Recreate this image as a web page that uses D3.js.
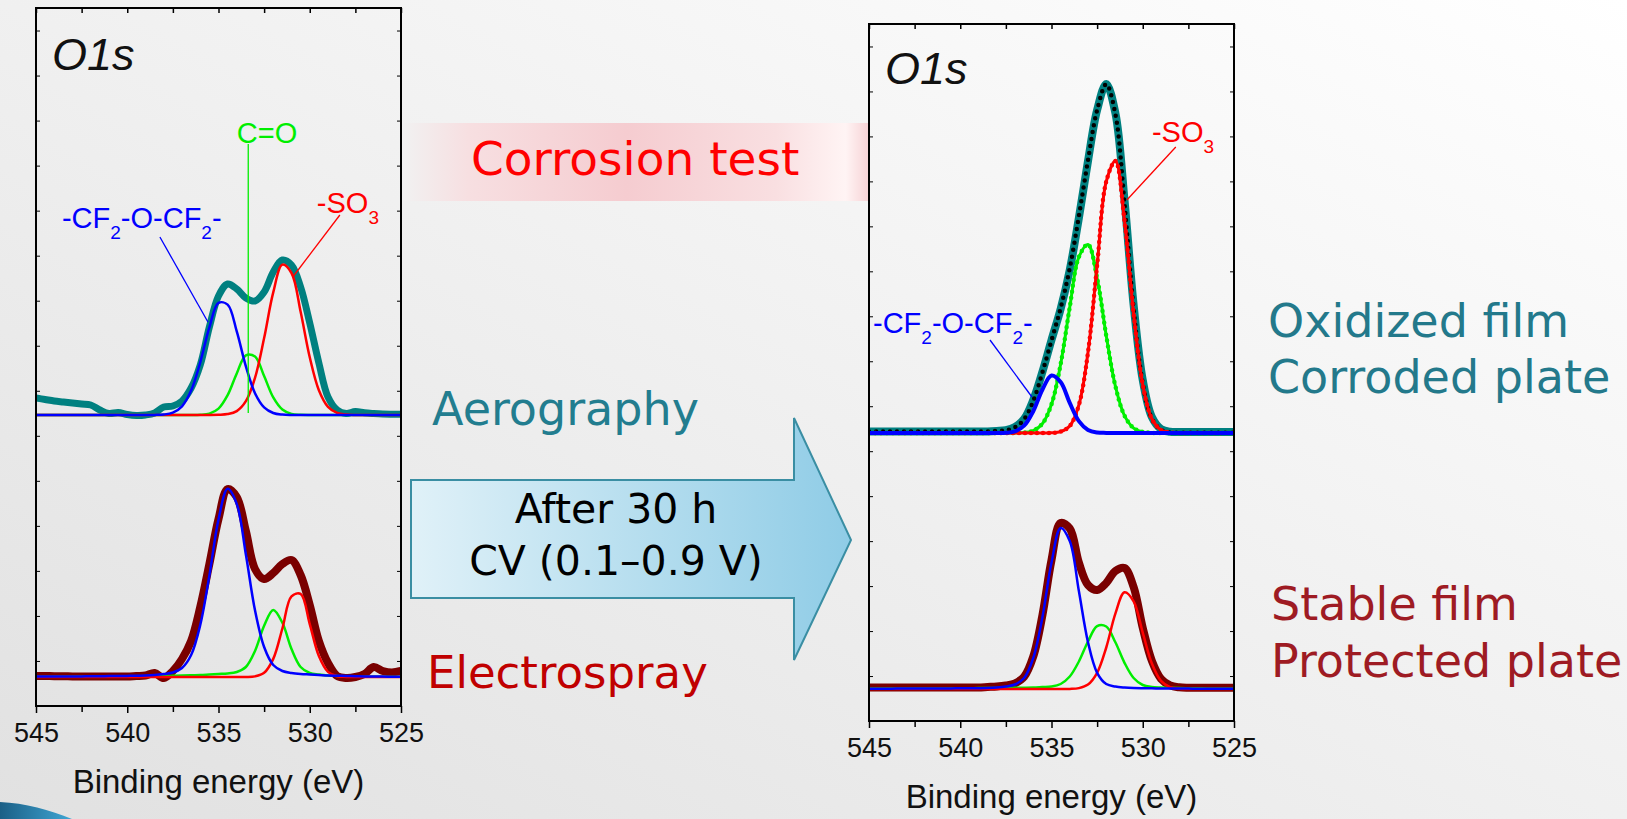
<!DOCTYPE html>
<html>
<head>
<meta charset="utf-8">
<script src="https://cdn.jsdelivr.net/npm/d3@7"></script>
<style>
  body { margin: 0; overflow: hidden; }
  svg text { font-family: "Liberation Sans", Arial, sans-serif; }
  svg text.slide { font-family: "DejaVu Sans", Verdana, sans-serif; }
</style>
</head>
<body>
<svg id="chart" width="1627" height="819"></svg>
<script>
// binding energy grid (eV), shared by every spectrum
const energy = [545,544.5,544,543.5,543,542.5,542,541.5,541,540.5,540,539.5,539,538.5,538,537.5,537,536.5,536,535.5,
  535,534.5,534,533.5,533,532.5,532,531.5,531,530.5,530,529.5,529,528.5,528,527.5,527,526.5,526,525.5,525];

// Aerography film, before test (left panel, top) - intensity a.u.
const aeroData  = [17,15.5,14,13,12,11,10,5,1.5,2.5,0.5,-0.5,0,2,8,9,14,27,50,88,119,131,126,117,114,123,143,155,150,128,92,52,18,5,1.5,3.5,2.2,1.5,1,0.8,0.7];
const aeroBlue  = [0,0,0,0,0,0,0,0,0,0,0,0,0,0.1,0.5,2.4,8.7,24.4,52.7,87.6,112.1,110.4,83.6,48.7,21.8,7.6,2.0,0.4,0,0,0,0,0,0,0,0,0,0,0,0,0];
const aeroGreen = [0,0,0,0,0,0,0,0,0,0,0,0,0,0,0,0,0,0,0.2,1.4,6.4,19.8,41.6,59.7,58.4,38.9,17.6,5.5,1.1,0.2,0,0,0,0,0,0,0,0,0,0,0];
const aeroRed   = [0,0,0,0,0,0,0,0,0,0,0,0,0,0,0,0,0,0,0,0,0.2,0.9,3.9,13.8,37.1,76.9,122.6,150.4,142.0,103.2,57.7,24.8,8.2,2.1,0.4,0,0,0,0,0,0];

// Electrospray film, before test (left panel, bottom)
const sprayData  = [1,1,0.8,0.8,0.5,0.5,0.5,0.5,0.5,0.5,0.5,1,1.5,4,-1,6,18,36,70,113,158,188,180,146,108,98,104,113,117,102,72,36,14,1,-1,0,3,10,6,4.5,6];
const sprayBlue  = [0.5,0.5,0.5,0.5,0.6,0.6,0.7,0.8,0.9,1,1.1,1.3,1.5,2,3,4.5,9,22,52,101.4,157.5,188.2,173.1,122.5,66.7,30,12,6,4,3,2.5,2,1.5,1.3,1,0.8,0.5,0.5,0.4,0.3,0.3];
const sprayGreen = [0.2,0.2,0.2,0.2,0.2,0.2,0.3,0.3,0.4,0.4,0.5,0.6,0.7,0.8,1,1.2,1.5,1.8,2,2.5,3,3.5,5,10,26,51.2,67,54.2,28,10,4,2.5,1.5,1,0.5,0.4,0.2,0.2,0.2,0.2,0.2];
const sprayRed   = [0,0,0,0,0,0,0,0,0,0,0,0,0,0,0,0,0,0,0,0,0,0,0,0,0.6,4.2,18.1,48.5,80.7,83.1,52.9,20.9,5.1,0.8,0.1,0,0,0,0,0,0];

// Oxidized film after 30 h CV (right panel, top)
const oxData  = [1.5,1.5,1.5,1.5,1.5,1.5,1.5,1.5,1.5,1.5,1.5,1.5,1.5,1.5,2,2.8,6,14,33,61,93,124,163,215,272,323,349,320,233,128,53,16,4,1.2,1,1,1,1,1,1,1];
const oxFit   = [1.5,1.5,1.5,1.5,1.5,1.5,1.5,1.5,1.5,1.5,1.5,1.5,1.5,1.5,2,2.7,5.7,13.7,32,60.6,92.5,125,164.8,216.8,272.8,323,348.9,318.9,229.5,124.3,49.6,14.4,3,0.5,0.3,0.3,0.3,0.3,0.3,0.3,0.3];
const oxBlue  = [0,0,0,0,0,0,0,0,0,0,0,0,0,0,0,0.2,1.6,7.3,21.8,43.3,57.5,50.9,30.1,11.9,3.1,0.5,0.1,0,0,0,0,0,0,0,0,0,0,0,0,0,0];
const oxGreen = [0,0,0,0,0,0,0,0,0,0,0,0,0,0,0,0,0.1,0.4,2.3,9.3,28.8,68.8,125.7,175.9,188.5,154.8,97.3,46.9,17.3,4.9,1.1,0.2,0,0,0,0,0,0,0,0,0];
const oxRed   = [0,0,0,0,0,0,0,0,0,0,0,0,0,0,0,0,0,0,0,0,0.2,1.3,7.0,28.0,80.7,167.7,251.5,272.0,212.2,119.4,48.5,14.2,3.0,0.5,0,0,0,0,0,0,0];

// Stable film after 30 h CV (right panel, bottom)
const protData  = [1.5,1.5,1.5,1.5,1.5,1.5,1.5,1.5,1.5,1.5,1.5,1.5,1.5,2,2.5,3.6,5.7,12.3,32.5,73.6,128.9,166,160.5,126.4,104,99,106,118,121,102,61.1,28.1,10.2,3.6,1.7,1.3,1.3,1.3,1.3,1.3,1.3];
const protBlue  = [0.3,0.3,0.3,0.4,0.4,0.4,0.5,0.5,0.6,0.6,0.7,0.7,0.8,1,1.5,2.5,4.5,11,31,71.6,126.4,161,147.9,98,46.8,16.2,5,2.5,1.5,1,0.8,0.7,0.5,0.5,0.4,0.4,0.3,0.3,0.3,0.3,0.3];
const protGreen = [0.5,0.5,0.5,0.5,0.5,0.5,0.5,0.5,0.5,0.5,0.8,0.8,0.9,0.9,1,1.1,1.2,1.3,1.5,2,2.5,5,12.5,27.5,47.5,62.9,62.5,46.7,26.2,11,4,2,1.5,1.2,1,0.8,0.7,0.6,0.5,0.5,0.5];
const protRed   = [0,0,0,0,0,0,0,0,0,0,0,0,0,0,0,0,0,0,0,0,0,0,0.1,0.9,4.5,16.2,41.5,75.3,96.7,87.7,56.3,25.5,8.2,1.9,0.3,0,0,0,0,0,0];

const xTicks = [545, 540, 535, 530, 525];
const xMinorTicks = [542.5, 537.5, 532.5, 527.5];
const xAllTicks = [545, 542.5, 540, 537.5, 535, 532.5, 530, 527.5, 525];
const sideTicks = [1,2,3,4,5,6,7,8,9,10,11,12,13,14,15];

const TEAL = '#008080', MAROON = '#7a0000', BLUE = '#0000ff', GREEN = '#00ee00', RED = '#ff0000';

const svg = d3.select('#chart');
const defs = svg.append('defs');

// slide background
const bg = defs.append('linearGradient').attr('id', 'bg')
  .attr('x1', '100%').attr('y1', '0%').attr('x2', '0%').attr('y2', '100%');
bg.append('stop').attr('offset', '0%').attr('stop-color', '#ffffff');
bg.append('stop').attr('offset', '100%').attr('stop-color', '#e1e1e1');
svg.append('rect').attr('width', 1627).attr('height', 819).attr('fill', 'url(#bg)');

// pink band behind "Corrosion test"
const pink = defs.append('linearGradient').attr('id', 'pink');
[['0%', '#f1f1f1'], ['14%', '#f7dfe1'], ['48%', '#f5ccd0'], ['80%', '#f9dfe1'], ['95%', '#fff4f4'], ['100%', '#f6d2d5']]
  .forEach(s => pink.append('stop').attr('offset', s[0]).attr('stop-color', s[1]));
svg.append('rect').attr('x', 403).attr('y', 123).attr('width', 466).attr('height', 78).attr('fill', 'url(#pink)');

// arrow
const arrowGrad = defs.append('linearGradient').attr('id', 'arrowGrad');
arrowGrad.append('stop').attr('offset', '0%').attr('stop-color', '#e0f1f8');
arrowGrad.append('stop').attr('offset', '100%').attr('stop-color', '#8fcce6');
svg.append('path')
  .attr('d', 'M411,480 L794,480 L794,418 L851,540 L794,660 L794,598 L411,598 Z')
  .attr('fill', 'url(#arrowGrad)').attr('stroke', '#3a8ea3').attr('stroke-width', 2);

// bottom-left swoosh
const sw = defs.append('linearGradient').attr('id', 'sw');
sw.append('stop').attr('offset', '0%').attr('stop-color', '#1b5f86');
sw.append('stop').attr('offset', '100%').attr('stop-color', '#3fa6d4');
svg.append('path').attr('d', 'M0,802 C25,803 50,810 72,819 L0,819 Z').attr('fill', 'url(#sw)');

function subLabel(g, x, y, parts, color) {
  const t = g.append('text').attr('x', x).attr('y', y).attr('fill', color).attr('font-size', 29);
  let prevSub = false;
  parts.forEach(([s, sub]) => {
    t.append('tspan')
      .attr('font-size', sub ? 19 : 29)
      .attr('dy', sub ? 11 : (prevSub ? -11 : 0))
      .text(s);
    prevSub = sub;
  });
}

const panels = [
  { id: 'L', x0: 36, y0: 8, w: 365, h: 698, labelDy: 62,
    stacks: [
      { base: 415, series: [
        { values: aeroData, color: TEAL, width: 7 },
        { values: aeroGreen, color: GREEN, width: 2.5 },
        { values: aeroRed, color: RED, width: 2.5 },
        { values: aeroBlue, color: BLUE, width: 2.5 }],
        notes: [
          { text: [['C=O', false]], color: GREEN, at: [534.0, 272], line: [[533.37, 271], [533.37, 2]] },
          { text: [['-SO', false], ['3', true]], color: RED, at: [529.61, 202], line: [[528.35, 200], [530.93, 138]] },
          { text: [['-CF', false], ['2', true], ['-O-CF', false], ['2', true], ['-', false]], color: BLUE, at: [543.58, 187], line: [[538.21, 178], [535.58, 93]] }
        ] },
      { base: 677, series: [
        { values: sprayData, color: MAROON, width: 8 },
        { values: sprayGreen, color: GREEN, width: 2.5 },
        { values: sprayRed, color: RED, width: 2.5 },
        { values: sprayBlue, color: BLUE, width: 2.5 }],
        notes: [] }
    ] },
  { id: 'R', x0: 869, y0: 24, w: 365, h: 697, labelDy: 60,
    stacks: [
      { base: 433, series: [
        { values: oxData, color: TEAL, width: 8 },
        { values: oxFit, color: 'none', width: 0, dots: { color: '#000', size: 4.5, gap: 7 } },
        { values: oxGreen, color: GREEN, width: 3, dots: { color: GREEN, size: 4.5, gap: 6 } },
        { values: oxRed, color: RED, width: 3, dots: { color: RED, size: 4.5, gap: 6 } },
        { values: oxBlue, color: BLUE, width: 4 }],
        notes: [
          { text: [['-SO', false], ['3', true]], color: RED, at: [529.5, 291], line: [[528.19, 286], [530.87, 233]] },
          { text: [['-CF', false], ['2', true], ['-O-CF', false], ['2', true], ['-', false]], color: BLUE, at: [544.78, 100], line: [[538.37, 93], [536.07, 36]] }
        ] },
      { base: 689, series: [
        { values: protData, color: MAROON, width: 8 },
        { values: protGreen, color: GREEN, width: 2.5 },
        { values: protRed, color: RED, width: 2.5 },
        { values: protBlue, color: BLUE, width: 2.5 }],
        notes: [] }
    ] }
];

panels.forEach(p => {
  const g = svg.append('g');
  const x = d3.scaleLinear().domain([545, 525]).range([p.x0, p.x0 + p.w]);

  defs.append('clipPath').attr('id', 'clip' + p.id)
    .append('rect').attr('x', p.x0).attr('y', p.y0).attr('width', p.w).attr('height', p.h);
  const plot = g.append('g').attr('clip-path', `url(#clip${p.id})`);

  p.stacks.forEach(s => {
    const y = d3.scaleLinear().domain([0, 100]).range([s.base, s.base - 100]);
    const line = d3.line()
      .x((d, i) => x(energy[i]))
      .y(d => y(d))
      .curve(d3.curveCatmullRom.alpha(0.5));

    s.series.forEach(sr => {
      if (sr.width > 0) {
        plot.append('path').attr('d', line(sr.values))
          .attr('fill', 'none').attr('stroke', sr.color).attr('stroke-width', sr.width)
          .attr('stroke-linejoin', 'round').attr('stroke-linecap', 'round');
      }
      if (sr.dots) {
        plot.append('path').attr('d', line(sr.values))
          .attr('fill', 'none').attr('stroke', sr.dots.color).attr('stroke-width', sr.dots.size)
          .attr('stroke-dasharray', `0 ${sr.dots.gap}`).attr('stroke-linecap', 'round');
      }
    });

    s.notes.forEach(n => {
      g.append('line')
        .attr('x1', x(n.line[0][0])).attr('y1', y(n.line[0][1]))
        .attr('x2', x(n.line[1][0])).attr('y2', y(n.line[1][1]))
        .attr('stroke', n.color).attr('stroke-width', 1.3);
      subLabel(g, x(n.at[0]), y(n.at[1]), n.text, n.color);
    });
  });

  // frame
  g.append('rect').attr('x', p.x0).attr('y', p.y0).attr('width', p.w).attr('height', p.h)
    .attr('fill', 'none').attr('stroke', '#000').attr('stroke-width', 2);

  // top ticks (inward)
  g.append('g').attr('transform', `translate(0,${p.y0})`)
    .call(d3.axisBottom(x).tickValues(xAllTicks).tickSize(5).tickFormat(''))
    .call(a => a.select('.domain').remove())
    .call(a => a.selectAll('line').attr('stroke-width', 1.5));

  // side ticks (inward)
  const side = d3.scaleLinear().domain([0, 15.5]).range([p.y0 + p.h, p.y0]);
  g.append('g').attr('transform', `translate(${p.x0},0)`)
    .call(d3.axisRight(side).tickValues(sideTicks).tickSize(4).tickFormat(''))
    .call(a => a.select('.domain').remove());
  g.append('g').attr('transform', `translate(${p.x0 + p.w},0)`)
    .call(d3.axisLeft(side).tickValues(sideTicks).tickSize(4).tickFormat(''))
    .call(a => a.select('.domain').remove());

  // bottom axis
  const yb = p.y0 + p.h;
  g.append('g').attr('transform', `translate(0,${yb})`)
    .call(d3.axisBottom(x).tickValues(xMinorTicks).tickSize(6).tickFormat(''))
    .call(a => a.select('.domain').remove())
    .call(a => a.selectAll('line').attr('stroke-width', 1.5));
  g.append('g').attr('transform', `translate(0,${yb})`)
    .call(d3.axisBottom(x).tickValues(xTicks).tickSize(7).tickPadding(10).tickFormat(d3.format('d')))
    .call(a => a.select('.domain').remove())
    .call(a => a.selectAll('line').attr('stroke-width', 1.5))
    .call(a => a.selectAll('text').attr('font-size', 27).attr('fill', '#111')
      .attr('font-family', '"Liberation Sans", Arial, sans-serif'));

  g.append('text').attr('x', p.x0 + p.w / 2).attr('y', yb + 87)
    .attr('text-anchor', 'middle').attr('font-size', 33).attr('fill', '#111')
    .text('Binding energy (eV)');

  g.append('text').attr('x', p.x0 + 16).attr('y', p.y0 + p.labelDy)
    .attr('font-size', 45).attr('font-style', 'italic').attr('fill', '#111')
    .text('O1s');
});

// slide texts
const slideTexts = [
  { t: 'Corrosion test', x: 471, y: 175, size: 47, color: '#ff0000' },
  { t: 'Aerography', x: 432, y: 425, size: 46, color: '#227d8f' },
  { t: 'After 30 h', x: 616, y: 523, size: 41, color: '#000', anchor: 'middle' },
  { t: 'CV (0.1\u20130.9 V)', x: 616, y: 575, size: 41, color: '#000', anchor: 'middle' },
  { t: 'Electrospray', x: 427, y: 688, size: 45, color: '#c00000' },
  { t: 'Oxidized film', x: 1268, y: 337, size: 46, color: '#23798b' },
  { t: 'Corroded plate', x: 1268, y: 393, size: 46, color: '#23798b' },
  { t: 'Stable film', x: 1271, y: 620, size: 46, color: '#9e1b23' },
  { t: 'Protected plate', x: 1271, y: 677, size: 46, color: '#9e1b23' }
];
svg.selectAll('text.slide').data(slideTexts).join('text')
  .attr('class', 'slide')
  .attr('x', d => d.x).attr('y', d => d.y)
  .attr('text-anchor', d => d.anchor || 'start')
  .attr('font-size', d => d.size).attr('fill', d => d.color)
  .text(d => d.t);
</script>
</body>
</html>
